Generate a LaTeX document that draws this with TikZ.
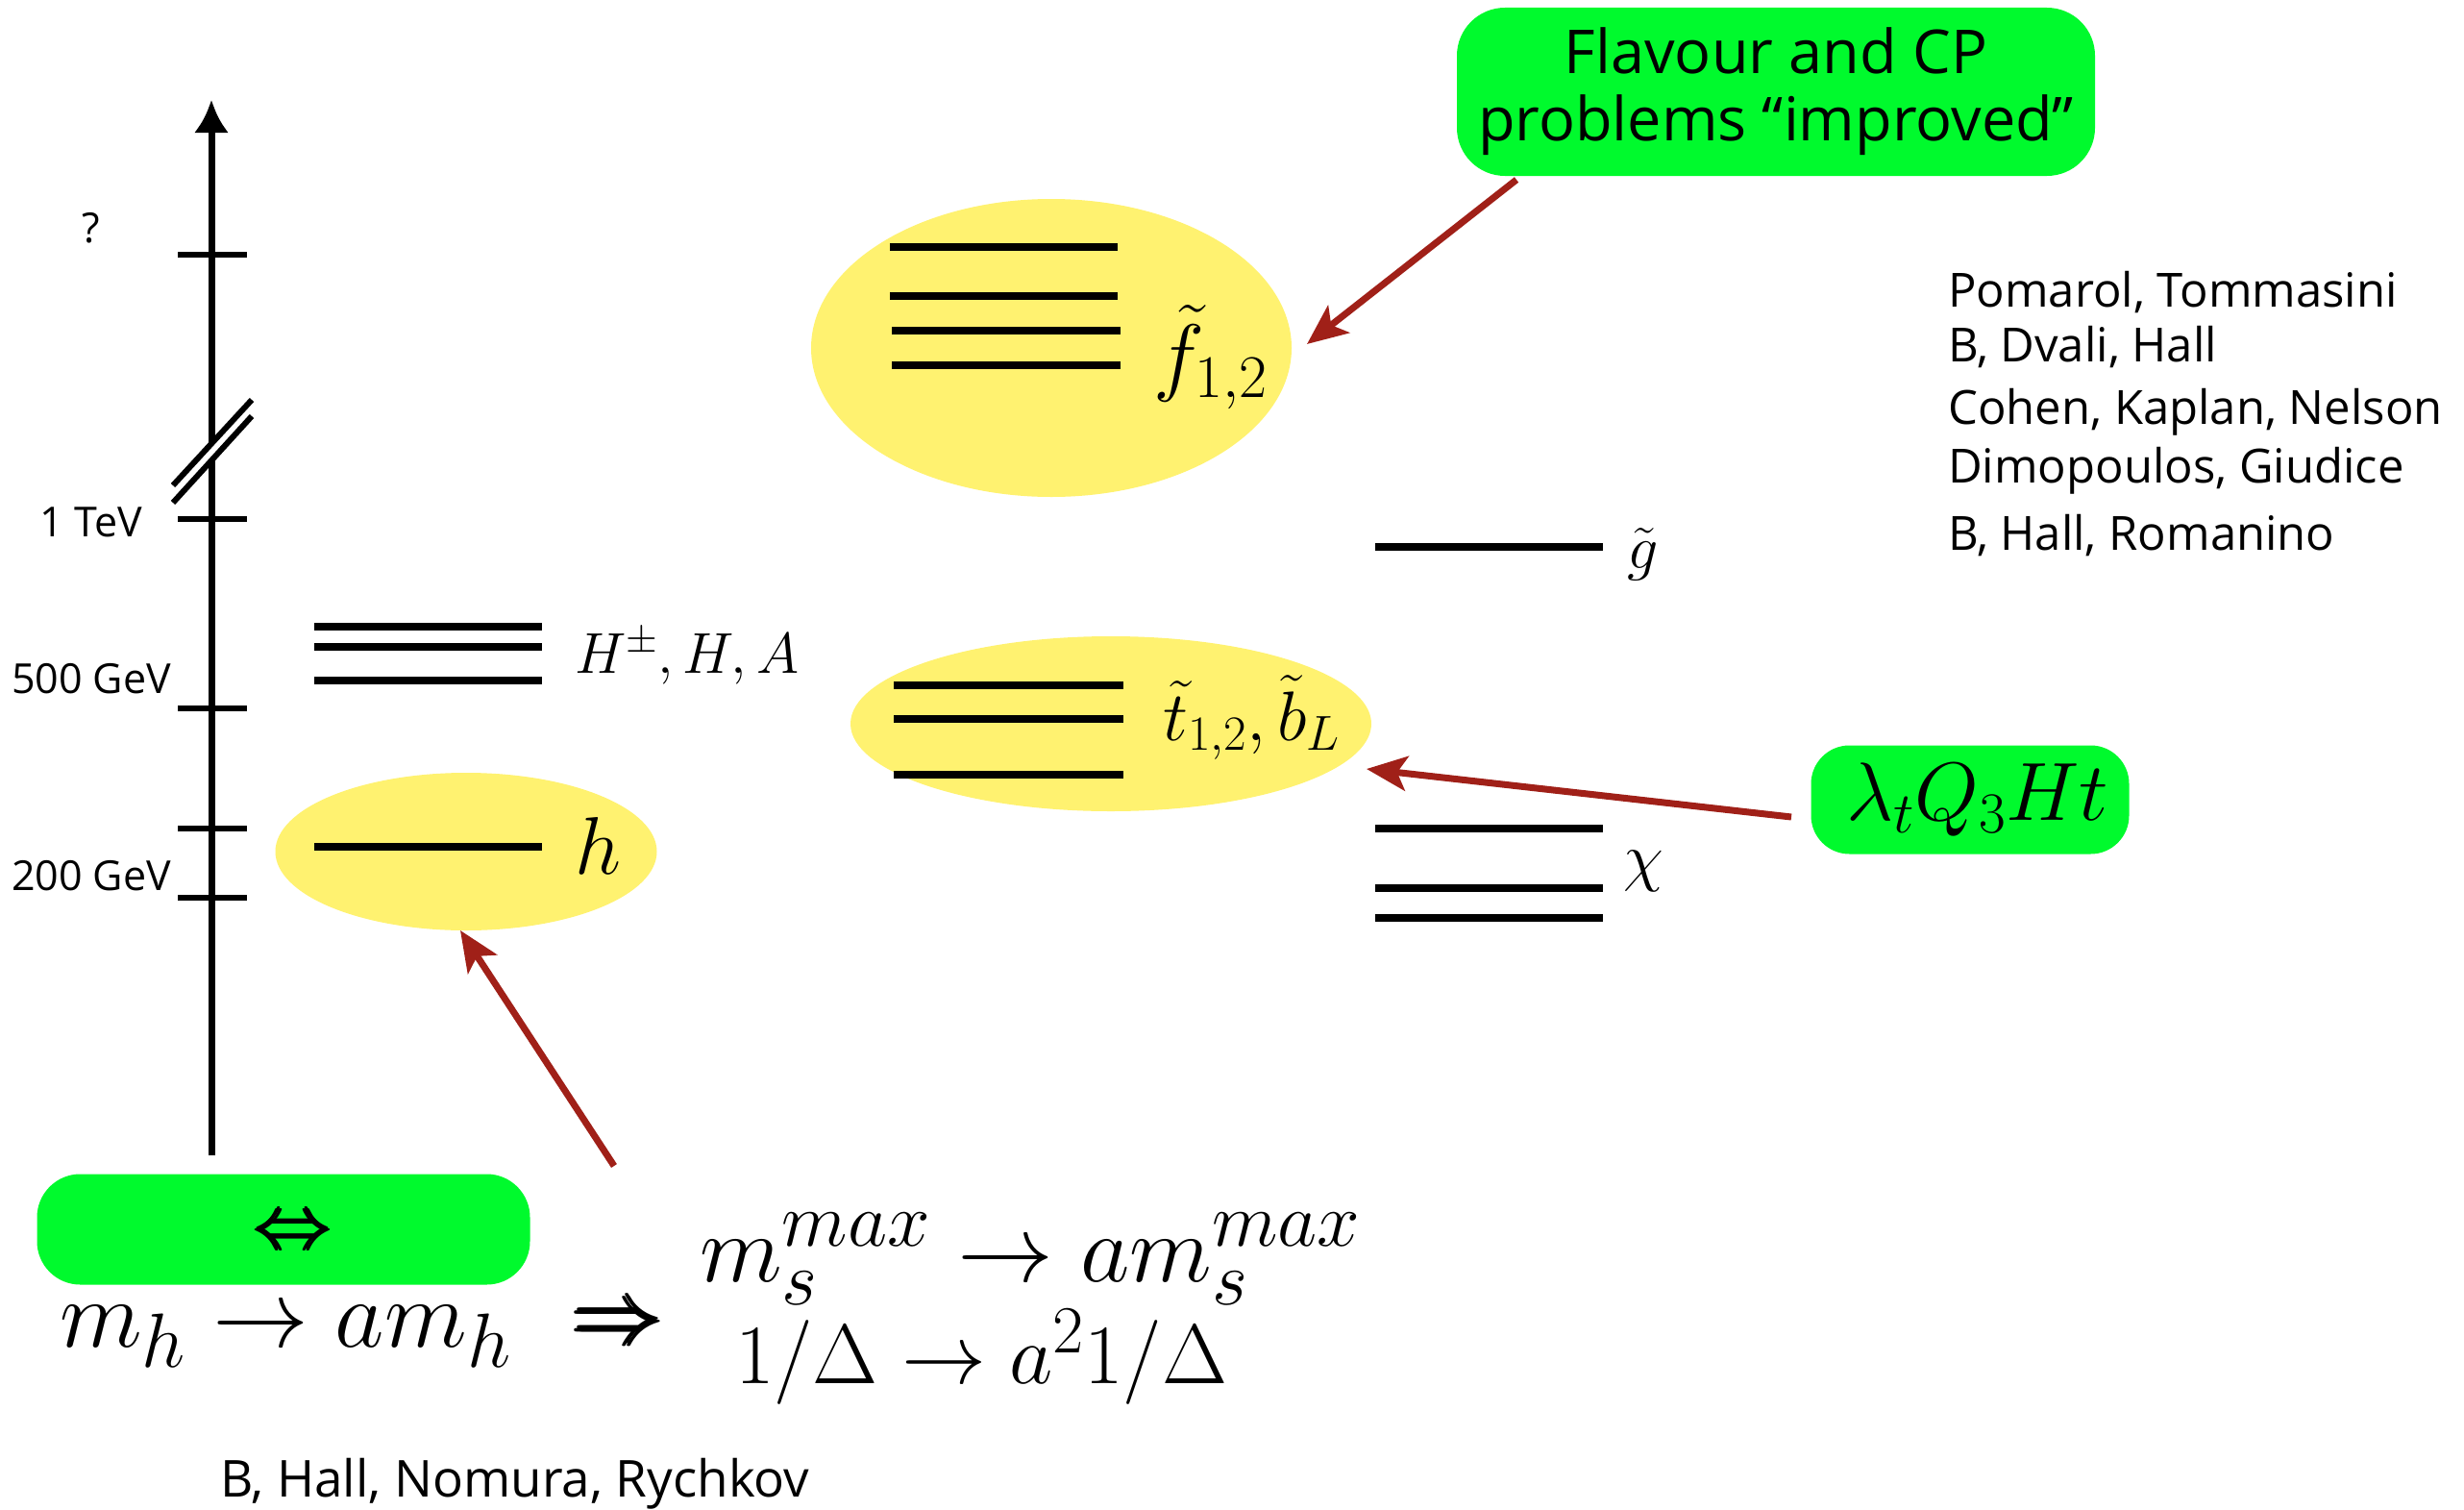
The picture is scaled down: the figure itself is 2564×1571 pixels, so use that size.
\RequirePackage{fix-cm}
\documentclass[tikz,border=0pt]{standalone}
\usepackage{amsmath}
\usepackage{fontspec}
\setmainfont{Open Sans}
\DeclareMathSizes{100}{100}{80}{60}
\DeclareMathSizes{88}{88}{70}{53}
\usetikzlibrary{shapes.geometric,arrows.meta,calc}
\definecolor{boxgreen}{RGB}{0,250,45}
\definecolor{blobyellow}{RGB}{255,242,112}
\definecolor{arrowred}{RGB}{160,32,24}
\begin{document}
\begin{tikzpicture}[x=1pt,y=-1pt,
  level/.style={line width=8pt},
  tickmark/.style={line width=6pt},
  blob/.style={ellipse, fill=blobyellow, inner sep=0pt},
  greenbox/.style={rectangle, rounded corners=45pt, fill=boxgreen, inner sep=0pt},
  redarrow/.style={line width=7pt, draw=arrowred, -{Stealth[length=42pt,width=36pt,inset=10pt]}},
  lab/.style={anchor=base west, inner sep=0pt},
  axlab/.style={inner sep=0pt, font=\fontsize{43}{43}\selectfont},
  cite/.style={anchor=base west, inner sep=0pt, font=\fontsize{49}{49}\selectfont},
]
\useasboundingbox (0,0) rectangle (2564,1571);

% yellow blobs
\node[blob, minimum width=500pt, minimum height=310pt] (fblob) at (1094,362) {};
\node[blob, minimum width=542pt, minimum height=182pt] (tblob) at (1156,753) {};
\node[blob, minimum width=397pt, minimum height=164pt] (hblob) at (485,886) {};

% green boxes
\node[greenbox, rounded corners=50pt, minimum width=664pt, minimum height=175pt,
      align=center, font=\fontsize{63}{70}\selectfont] (flav) at (1848,95.5)
      {Flavour and CP\\problems “improved”};
\node[greenbox, rounded corners=40pt, minimum width=331pt, minimum height=113pt] (lam) at (2050,832) {};
\node[inner sep=0pt, font=\fontsize{86}{86}\selectfont] (lamtxt) at (2058,832) {$\lambda_t Q_3 H t$};
\node[greenbox, minimum width=513pt, minimum height=115pt] (eqv) at (295,1279) {};
\node[inner sep=0pt, font=\fontsize{80}{80}\selectfont] (eqvsym) at (306,1284) {$\pmb{\Leftrightarrow}$};

% energy axis
\coordinate (axbot) at (220,1202);
\coordinate (axtop) at (220,104);
\draw[line width=7pt, -{Latex[length=34pt,width=36pt]}] (axbot) -- (axtop);
\foreach \yy in {265,540,737,862,934} \draw[tickmark] (185,\yy) -- (257,\yy);
% axis break
\fill[white] (180,505) -- (262,416) -- (262,433) -- (180,523) -- cycle;
\draw[line width=6pt] (180,505) -- (262,416);
\draw[line width=6pt] (180,523) -- (262,433);

\node[axlab] (qlab) at (95,237) {?};
\node[axlab] (tevlab) at (95,543) {1 TeV};
\node[axlab] (gev500) at (95,706) {500 GeV};
\node[axlab] (gev200) at (95,911) {200 GeV};

% levels
\foreach \yy in {652,673,708} \draw[level] (327,\yy) -- (564,\yy);
\draw[level] (327,881) -- (564,881);
\foreach \yy in {257,308} \draw[level] (926,\yy) -- (1163,\yy);
\foreach \yy in {344,380} \draw[level] (928,\yy) -- (1166,\yy);
\foreach \yy in {713,748,806} \draw[level] (930,\yy) -- (1169,\yy);
\draw[level] (1431,569) -- (1668,569);
\foreach \yy in {862,924,955} \draw[level] (1431,\yy) -- (1668,\yy);

% level labels
\node[lab, font=\fontsize{60}{60}\selectfont] (Hlab) at (598,700) {$H^\pm,H,A$};
\node[lab, font=\fontsize{85}{85}\selectfont] (hlab) at (598,909) {$h$};
\node[lab, font=\fontsize{90}{90}\selectfont] (flab) at (1200,400) {$\tilde f_{1,2}$};
\node[lab, font=\fontsize{64}{64}\selectfont] (glab) at (1693,591) {$\tilde g$};
\node[lab, font=\fontsize{73}{73}\selectfont] (tlab) at (1210,770) {$\tilde t_{1,2},\tilde b_L$};
\node[lab, font=\fontsize{68}{68}\selectfont] (chilab) at (1689,914) {$\chi$};

% arrows
\coordinate (a1s) at (1578,187);
\coordinate (a1e) at (1360,358);
\coordinate (a2s) at (1864,850);
\coordinate (a2e) at (1422,800);
\coordinate (a3s) at (639,1213);
\coordinate (a3e) at (479,968);
\draw[redarrow] (a1s) -- (a1e);
\draw[redarrow] (a2s) -- (a2e);
\draw[redarrow] (a3s) -- (a3e);

% bottom formulas
\node[lab, font=\fontsize{100}{100}\selectfont] (mh) at (62,1401) {$m_h\to am_h$};
\node[lab, font=\fontsize{95}{95}\selectfont] (impl) at (597,1398) {$\pmb{\Rightarrow}$};
\node[lab, font=\fontsize{100}{100}\selectfont] (ms) at (728,1333) {$m_s^{max}\to am_s^{max}$};
\node[lab, font=\fontsize{88}{88}\selectfont] (delta) at (765,1439) {$1/\Delta\to a^2 1/\Delta$};

% citations
\node[cite] (c1) at (2027,319) {Pomarol, Tommasini};
\node[cite] (c2) at (2027,376) {B, Dvali, Hall};
\node[cite] (c3) at (2027,441) {Cohen, Kaplan, Nelson};
\node[cite] (c4) at (2027,502) {Dimopoulos, Giudice};
\node[cite] (c5) at (2027,572) {B, Hall, Romanino};
\node[cite, font=\fontsize{53}{53}\selectfont] (c6) at (229,1557) {B, Hall, Nomura, Rychkov};
\end{tikzpicture}
\end{document}
